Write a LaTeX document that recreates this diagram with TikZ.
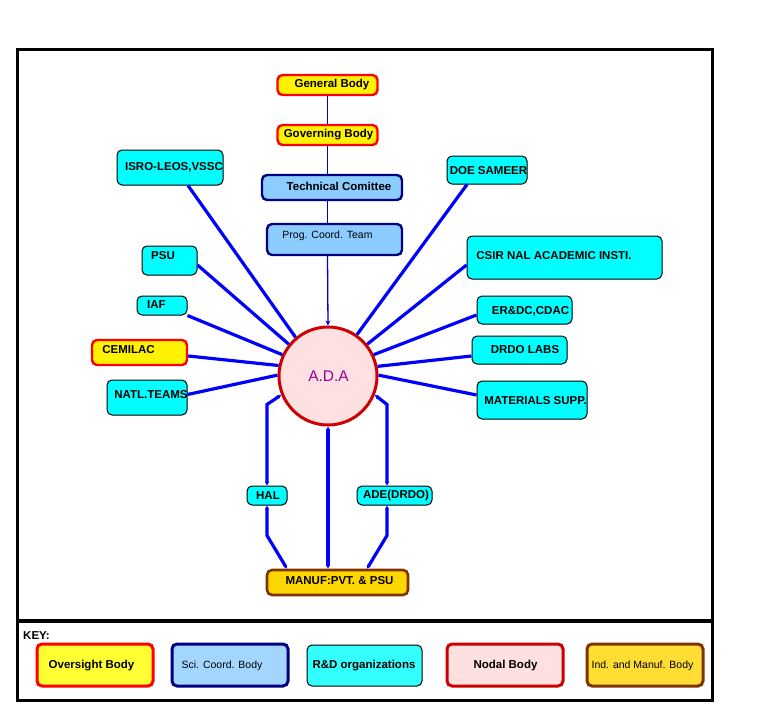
\documentclass[tikz,border=0pt]{standalone}
\usepackage{fontspec}
\setmainfont{Liberation Sans}
\usetikzlibrary{arrows.meta,calc}
\definecolor{scblue}{HTML}{8CCCFF}
\definecolor{navyb}{HTML}{000080}
\definecolor{cyanf}{HTML}{00FFFF}
\definecolor{keycyan}{HTML}{33FFFF}
\definecolor{adafill}{HTML}{FFE0E0}
\definecolor{adared}{HTML}{CC0000}
\definecolor{adatext}{HTML}{990099}
\definecolor{goldf}{HTML}{FFD700}
\definecolor{keygold}{HTML}{FFDD33}
\definecolor{brownb}{HTML}{7F3300}
\definecolor{spokeblue}{HTML}{0000FF}
\definecolor{keyyellow}{HTML}{FFFF33}
\tikzset{
  box/.style={rounded corners=5pt, inner sep=0pt},
  oversight/.style={box, fill=yellow, draw=red, line width=2.4pt},
  scico/.style={box, fill=scblue, draw=navyb, line width=2.4pt},
  rnd/.style={box, fill=cyanf, draw=black, line width=1pt},
  manufbox/.style={box, fill=goldf, draw=brownb, line width=2.6pt},
  lbl/.style={font=\fontsize{11.5}{13}\selectfont\bfseries, inner sep=0pt},
  lblsmall/.style={font=\fontsize{10.5}{12}\selectfont, inner sep=0pt},
  spoke/.style={draw=spokeblue, line width=3.2pt},
  thinline/.style={draw=spokeblue!85!black, line width=1.3pt},
  tip/.style={-{Stealth[length=5pt,width=5pt]}},
  bitip/.style={{Stealth[length=4pt,width=4pt]}-{Stealth[length=4pt,width=4pt]}},
}
\begin{document}
\begin{tikzpicture}[x=1pt,y=-1pt]
\useasboundingbox (0,0) rectangle (765,717);
% frame
\draw[line width=3pt] (17,50) rectangle (712,700);
\draw[line width=4pt] (17,621) -- (712,621);

% top chain
\node[oversight, minimum width=100, minimum height=20] (gb) at (327.5,85) {};
\node[lbl] (tgb) at (332,85) {General Body};
\node[oversight, minimum width=100, minimum height=20] (gov) at (327.5,135) {};
\node[lbl] (tgov) at (328.5,135) {Governing Body};
\node[scico, minimum width=140, minimum height=25] (tc) at (332,187.5) {};
\node[lbl] (ttc) at (339,186) {Technical Comittee};
\node[scico, minimum width=135, minimum height=31] (pct) at (334.5,239.5) {};
\node[lblsmall] (tpct) at (327.5,236) {Prog. Coord. Team};

% ADA
\node[circle, minimum size=98, fill=adafill, draw=adared, line width=3pt, inner sep=0pt] (ada) at (328,376) {};
\node[font=\fontsize{15.5}{17}\selectfont, text=adatext, inner sep=0pt] (tada) at (328.5,376) {A.D.A};

\draw[thinline] (gb.south) -- (gov.north);
\draw[thinline] (gov.south) -- (gov.south |- tc.north);
\draw[thinline] (gov.south |- tc.south) -- (gov.south |- pct.north);
\draw[thinline, tip] (gov.south |- pct.south) -- (ada.north);

% left nodes
\node[rnd, minimum width=106, minimum height=35] (isro) at (170,167.5) {};
\node[lbl] (tisro) at (174,167) {ISRO-LEOS,VSSC};
\node[rnd, minimum width=55, minimum height=29] (psu) at (169.5,260.5) {};
\node[lbl] (tpsu) at (163,256) {PSU};
\node[rnd, minimum width=50, minimum height=19] (iaf) at (162,305.5) {};
\node[lbl] (tiaf) at (156.5,305) {IAF};
\node[oversight, minimum width=95, minimum height=25] (cem) at (139.5,352.5) {};
\node[lbl] (tcem) at (128.5,350) {CEMILAC};
\node[rnd, minimum width=80, minimum height=35] (natl) at (147,397.5) {};
\node[lbl] (tnatl) at (151,395) {NATL.TEAMS};

% right nodes
\node[rnd, minimum width=80, minimum height=28] (doe) at (487,170) {};
\node[lbl] (tdoe) at (488.5,171) {DOE SAMEER};
\node[rnd, minimum width=195, minimum height=43] (csir) at (564.5,257.5) {};
\node[lbl] (tcsir) at (554,256) {CSIR NAL ACADEMIC INSTI.};
\node[rnd, minimum width=95, minimum height=28] (erdc) at (524.5,310) {};
\node[lbl] (terdc) at (530.5,311) {ER\&DC,CDAC};
\node[rnd, minimum width=95, minimum height=28] (drdo) at (519.5,350) {};
\node[lbl] (tdrdo) at (525,350) {DRDO LABS};
\node[rnd, minimum width=110, minimum height=38] (mat) at (532,400) {};
\node[lbl] (tmat) at (535.5,401) {MATERIALS SUPP.};

% spokes
\draw[spoke] ([xshift=18]isro.south) -- (ada.130);
\draw[spoke] ([yshift=-4.5]psu.east) -- (ada.141);
\draw[spoke] (iaf.south east) -- (ada.155);
\draw[spoke] ([yshift=-3.5]cem.east) -- (ada.168);
\draw[spoke] ([yshift=3]natl.east) -- (ada.179);
\draw[spoke] ([xshift=-20]doe.south) -- (ada.55);
\draw[spoke] ([yshift=-7.5]csir.west) -- (ada.39);
\draw[spoke] ([yshift=-5]erdc.west) -- (ada.25);
\draw[spoke] ([yshift=-6]drdo.west) -- (ada.11.5);
\draw[spoke] ([yshift=5]mat.west) -- (ada.1);

% bottom
\node[rnd, minimum width=40, minimum height=19] (hal) at (267,495.5) {};
\node[lbl] (thal) at (268,496) {HAL};
\node[rnd, minimum width=75, minimum height=19] (ade) at (394.5,495.5) {};
\node[lbl] (tade) at (396,496) {ADE(DRDO)};
\node[manufbox, minimum width=141, minimum height=25] (manuf) at (337.5,582.5) {};
\node[lbl] (tmanuf) at (339.5,581) {MANUF:PVT. \& PSU};

\draw[spoke, bitip] (ada.202) -- ([yshift=81]hal.north) -- (hal.north);
\draw[spoke, bitip] (hal.south) -- ([yshift=-30]hal.south) -- ([xshift=-50.5]manuf.north);
\draw[spoke, bitip] (ada.338) -- ([xshift=-7.5,yshift=81]ade.north) -- ([xshift=-7.5]ade.north);
\draw[spoke, bitip] ([xshift=-7.5]ade.south) -- ([xshift=-7.5,yshift=-30]ade.south) -- ([xshift=29.5]manuf.north);
\draw[spoke, bitip] (ada.south) -- ([xshift=-9.5]manuf.north);

% key
\node[lbl, anchor=west] (key) at (23,636) {KEY:};
\node[box, fill=keyyellow, draw=red, line width=3pt, minimum width=116, minimum height=42] (k1) at (95,665) {};
\node[lbl] (tk1) at (91.5,666) {Oversight Body};
\node[box, fill=scblue!80!white, draw=navyb, line width=3pt, minimum width=116, minimum height=42] (k2) at (230,665) {};
\node[lblsmall] (tk2) at (222,666) {Sci. Coord. Body};
\node[box, fill=keycyan, draw=black, line width=1pt, minimum width=115, minimum height=41] (k3) at (364.5,665.5) {};
\node[lbl] (tk3) at (364,666) {R\&D organizations};
\node[box, fill=adafill, draw=adared, line width=3pt, minimum width=116, minimum height=42] (k4) at (505,665) {};
\node[lbl] (tk4) at (505.5,666) {Nodal Body};
\node[box, fill=keygold, draw=brownb, line width=3pt, minimum width=116, minimum height=42] (k5) at (645,665) {};
\node[lblsmall] (tk5) at (642.5,666) {Ind. and Manuf. Body};
\end{tikzpicture}
\end{document}
